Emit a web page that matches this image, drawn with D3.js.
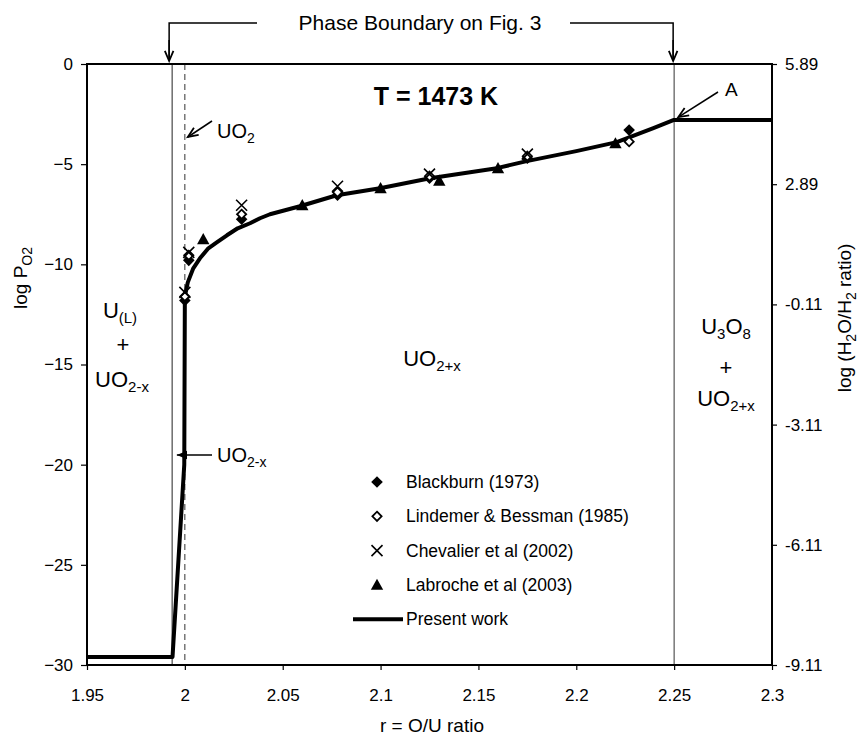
<!DOCTYPE html>
<html><head><meta charset="utf-8">
<script src="https://cdn.jsdelivr.net/npm/d3@7"></script>
<style>body{margin:0;background:#fff}svg{display:block;font-family:"Liberation Sans",Arial,sans-serif}</style>
</head><body><svg id="c" width="865" height="741"></svg>
<script>
// ---------- data ----------
const xTicks = [1.95, 2, 2.05, 2.1, 2.15, 2.2, 2.25, 2.3];
const xTickLabels = ["1.95", "2", "2.05", "2.1", "2.15", "2.2", "2.25", "2.3"];
const yTicks = [0, -5, -10, -15, -20, -25, -30];
const yRightTicks = [5.89, 2.89, -0.11, -3.11, -6.11, -9.11];

const presentX = [1.95, 1.9937, 1.9997, 2.0, 2.0015, 2.0043, 2.0077, 2.012, 2.0163, 2.0215, 2.027, 2.0333, 2.0384, 2.0435, 2.0588, 2.0776, 2.0997, 2.1253, 2.1594, 2.1747, 2.2, 2.2207, 2.2327, 2.2394, 2.2496, 2.3];
const presentY = [-29.6, -29.6, -20, -11.6, -10.9, -10.2, -9.7, -9.2, -8.9, -8.55, -8.2, -7.95, -7.7, -7.5, -7.1, -6.55, -6.2, -5.7, -5.2, -4.85, -4.35, -3.9, -3.45, -3.2, -2.8, -2.8];

const blackburnX = [2.0, 2.002, 2.029, 2.078, 2.125, 2.175, 2.227];
const blackburnY = [-11.8, -9.8, -7.75, -6.55, -5.7, -4.7, -3.3];
const lindemerX = [2.0, 2.002, 2.029, 2.078, 2.125, 2.175, 2.227];
const lindemerY = [-11.6, -9.55, -7.5, -6.4, -5.6, -4.6, -3.88];
const chevalierX = [2.0, 2.002, 2.029, 2.078, 2.125, 2.175];
const chevalierY = [-11.4, -9.4, -7.05, -6.1, -5.5, -4.5];
const labrocheX = [2.0094, 2.06, 2.1, 2.13, 2.16, 2.22];
const labrocheY = [-8.75, -7.05, -6.2, -5.83, -5.2, -3.96];

const legendLabels = ["Blackburn (1973)", "Lindemer & Bessman (1985)", "Chevalier et al (2002)", "Labroche et al (2003)", "Present work"];
const phaseLeft = 1.9935, phaseRight = 2.25, stoich = 2.0;
const lineLevelA = -2.8;

// ---------- layout ----------
const svg = d3.select("#c");
const L = 87, R = 772, T = 64, B = 665;
const x = d3.scaleLinear().domain([1.95, 2.3]).range([L, R]);
const y = d3.scaleLinear().domain([-30, 0]).range([B, T]);
const yR = d3.scaleLinear().domain([-9.11, 5.89]).range([B, T]);
const FONT = '"Liberation Sans", Arial, sans-serif';

// phase lines
svg.append("line").attr("x1", x(phaseLeft)).attr("x2", x(phaseLeft)).attr("y1", T).attr("y2", B)
  .attr("stroke", "#222").attr("stroke-width", 1);
svg.append("line").attr("x1", x(phaseRight)).attr("x2", x(phaseRight)).attr("y1", T).attr("y2", B)
  .attr("stroke", "#555").attr("stroke-width", 1.2);
svg.append("line").attr("x1", x(stoich)).attr("x2", x(stoich)).attr("y1", T).attr("y2", B)
  .attr("stroke", "#333").attr("stroke-width", 1).attr("stroke-dasharray", "6,4");

// axes
const ax = svg.append("g").attr("transform", `translate(0,${B})`)
  .call(d3.axisBottom(x).tickValues(xTicks).tickFormat((d, i) => xTickLabels[i]).tickSize(5).tickSizeOuter(0).tickPadding(19));
const ay = svg.append("g").attr("transform", `translate(${L},0)`)
  .call(d3.axisLeft(y).tickValues(yTicks).tickFormat(d3.format("d")).tickSize(6).tickSizeOuter(0).tickPadding(8));
const ayr = svg.append("g").attr("transform", `translate(${R},0)`)
  .call(d3.axisRight(yR).tickValues(yRightTicks).tickFormat(d => d.toFixed(2)).tickSize(5).tickSizeOuter(0).tickPadding(8));
[ax, ay, ayr].forEach(g => {
  g.selectAll("path.domain").remove();
  g.selectAll("line").attr("stroke", "#000").attr("stroke-width", 1.2);
  g.selectAll("text").attr("font-family", FONT).attr("font-size", 17).attr("fill", "#000");
});
// frame
svg.append("rect").attr("x", L).attr("y", T).attr("width", R - L).attr("height", B - T)
  .attr("fill", "none").attr("stroke", "#000").attr("stroke-width", 2);

// present work curve
const line = d3.line().x(d => x(d[0])).y(d => y(d[1]));
svg.append("path").datum(presentX.map((v, i) => [v, presentY[i]]))
  .attr("d", line).attr("fill", "none").attr("stroke", "#000").attr("stroke-width", 4).attr("stroke-linejoin", "round");

// markers
function drawMarker(g, kind, cx, cy) {
  if (kind === "bb") {
    const s = 5.8;
    g.append("path").attr("d", `M${cx},${cy - s}L${cx + s},${cy}L${cx},${cy + s}L${cx - s},${cy}Z`).attr("fill", "#000");
  } else if (kind === "lb") {
    const s = 4.6;
    g.append("path").attr("d", `M${cx},${cy - s}L${cx + s},${cy}L${cx},${cy + s}L${cx - s},${cy}Z`)
      .attr("fill", "#fff").attr("stroke", "#000").attr("stroke-width", 1.8);
  } else if (kind === "ch") {
    const s = 5.5;
    g.append("path").attr("d", `M${cx - s},${cy - s}L${cx + s},${cy + s}M${cx - s},${cy + s}L${cx + s},${cy - s}`)
      .attr("stroke", "#000").attr("stroke-width", 1.6).attr("fill", "none");
  } else if (kind === "lr") {
    const s = 6.2;
    g.append("path").attr("d", `M${cx},${cy - s}L${cx + s},${cy + s * 0.8}L${cx - s},${cy + s * 0.8}Z`).attr("fill", "#000");
  }
}
const mg = svg.append("g");
labrocheX.forEach((v, i) => drawMarker(mg, "lr", x(v), y(labrocheY[i])));
blackburnX.forEach((v, i) => drawMarker(mg, "bb", x(v), y(blackburnY[i])));
lindemerX.forEach((v, i) => drawMarker(mg, "lb", x(v), y(lindemerY[i])));
chevalierX.forEach((v, i) => drawMarker(mg, "ch", x(v), y(chevalierY[i])));

// legend
const lg = svg.append("g");
const legKinds = ["bb", "lb", "ch", "lr", "line"];
const legY0 = 482, legDy = 34.3, legMX = 377, legTX = 406;
legKinds.forEach((k, i) => {
  const yy = legY0 + i * legDy;
  if (k === "line") lg.append("line").attr("x1", 353).attr("x2", 403).attr("y1", yy).attr("y2", yy).attr("stroke", "#000").attr("stroke-width", 4);
  else drawMarker(lg, k, legMX, yy);
  lg.append("text").attr("x", legTX).attr("y", yy + 6).attr("font-size", 17.5).text(legendLabels[i]);
});

// helper: arrow
function arrow(x1, y1, x2, y2, filled) {
  const a = Math.atan2(y2 - y1, x2 - x1), len = 11, sp = 0.4;
  const p1 = [x2 - len * Math.cos(a - sp), y2 - len * Math.sin(a - sp)];
  const p2 = [x2 - len * Math.cos(a + sp), y2 - len * Math.sin(a + sp)];
  svg.append("line").attr("x1", x1).attr("y1", y1).attr("x2", x2).attr("y2", y2).attr("stroke", "#000").attr("stroke-width", 1.5);
  if (filled) svg.append("path").attr("d", `M${x2},${y2}L${p1[0]},${p1[1]}L${p2[0]},${p2[1]}Z`).attr("fill", "#000");
  else svg.append("path").attr("d", `M${p1[0]},${p1[1]}L${x2},${y2}L${p2[0]},${p2[1]}`).attr("fill", "none").attr("stroke", "#000").attr("stroke-width", 1.8);
}

// phase boundary header
const ax1 = x(phaseLeft) - 3, ax2 = x(phaseRight) - 1;
svg.append("path").attr("d", `M257,23H${ax1}V60`).attr("fill", "none").attr("stroke", "#000").attr("stroke-width", 1.5);
svg.append("path").attr("d", `M570,23H${ax2}V60`).attr("fill", "none").attr("stroke", "#000").attr("stroke-width", 1.5);
arrow(ax1, 40, ax1, 61, false);
arrow(ax2, 40, ax2, 61, false);
svg.append("text").attr("x", 420).attr("y", 30).attr("text-anchor", "middle").attr("font-size", 21).text("Phase Boundary on Fig. 3");

// title T
svg.append("text").attr("x", 436).attr("y", 105).attr("text-anchor", "middle").attr("font-size", 25).attr("font-weight", "bold").text("T = 1473 K");

// A annotation
arrow(718, 92, x(2.2496) + 5, y(lineLevelA) - 3, false);
svg.append("text").attr("x", 725).attr("y", 96).attr("font-size", 19).text("A");

// UO2 annotation
arrow(212, 121, x(stoich) + 3, 137, false);
const t1 = svg.append("text").attr("x", 217).attr("y", 138).attr("font-size", 20);
t1.append("tspan").text("UO");
t1.append("tspan").attr("font-size", 14).attr("dy", 5).text("2");

// UO2-x annotation
arrow(212, 455, x(stoich) - 8, 455, true);
const t2 = svg.append("text").attr("x", 217).attr("y", 462).attr("font-size", 20);
t2.append("tspan").text("UO");
t2.append("tspan").attr("font-size", 14).attr("dy", 5).text("2-x");

// region labels
function label(cx, by, parts, anchor) {
  const t = svg.append("text").attr("x", cx).attr("y", by).attr("font-size", 22).attr("text-anchor", anchor || "middle");
  let sub = false;
  parts.forEach(p => {
    const ts = t.append("tspan").text(p[0]);
    if (p[1] && !sub) { ts.attr("font-size", 15).attr("dy", 5); sub = true; }
    else if (!p[1] && sub) { ts.attr("dy", -5); sub = false; }
  });
}
label(120, 318, [["U"], ["(L)", 1]]);
label(123, 352, [["+"]]);
label(122, 387, [["UO"], ["2-x", 1]]);
label(432, 366, [["UO"], ["2+x", 1]]);
label(726, 334, [["U"], ["3", 1], ["O"], ["8", 1]]);
label(726, 375, [["+"]]);
label(726, 406, [["UO"], ["2+x", 1]]);

// axis titles
svg.append("text").attr("x", 432).attr("y", 732).attr("text-anchor", "middle").attr("font-size", 19).text("r = O/U ratio");
const lt = svg.append("text").attr("transform", "translate(27,278) rotate(-90)").attr("text-anchor", "middle").attr("font-size", 19);
lt.append("tspan").text("log P");
lt.append("tspan").attr("font-size", 14).attr("dy", 5).text("O2");
const rt = svg.append("text").attr("transform", "translate(851,318) rotate(-90)").attr("text-anchor", "middle").attr("font-size", 19);
rt.append("tspan").text("log (H");
rt.append("tspan").attr("font-size", 14).attr("dy", 5).text("2");
rt.append("tspan").attr("dy", -5).text("O/H");
rt.append("tspan").attr("font-size", 14).attr("dy", 5).text("2");
rt.append("tspan").attr("dy", -5).text(" ratio)");
</script></body></html>
